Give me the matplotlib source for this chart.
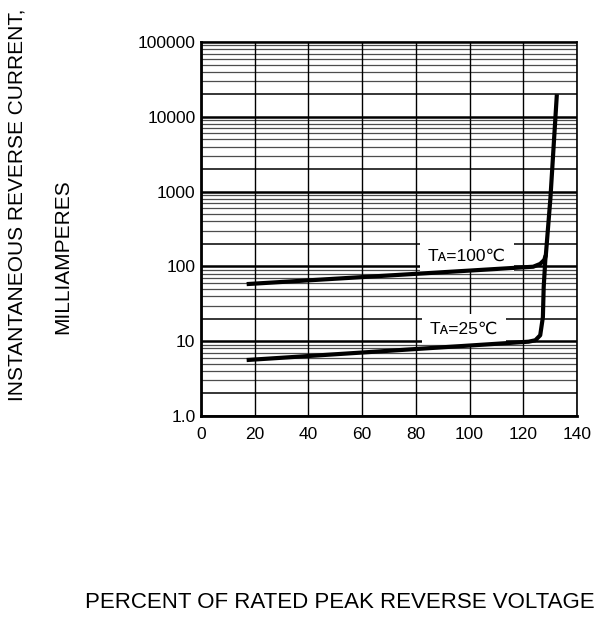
import numpy as np
import matplotlib
matplotlib.use("Agg")
import matplotlib.pyplot as plt

plt.rcParams['font.family'] = ['Liberation Sans', 'DejaVu Sans']

# T_A = 100 C curve (percent of rated voltage, mA)
x100 = [17, 123.7, 126.3, 127.8, 128.4, 130.1, 132.5]
y100 = [58, 99, 108, 122, 142, 815, 20000]
# T_A = 25 C curve
x25 = [17, 122, 124.5, 126.3, 127.3, 127.6, 128.2, 128.4]
y25 = [5.6, 9.85, 10.3, 12, 21, 53, 122, 142]

xticks = [0, 20, 40, 60, 80, 100, 120, 140]
yticks = [1, 10, 100, 1000, 10000, 100000]
ytick_labels = ['1.0', '10', '100', '1000', '10000', '100000']

fig = plt.figure(figsize=(6.01, 6.19), dpi=100)
ax = fig.add_axes([201/601, 1-416/619, 376/601, 374/619])

ax.set_yscale('log')
ax.set_xlim(0, 140)
ax.set_ylim(1, 100000)

# grid: minor log lines, thicker at 2x, thick decades
for d in yticks[:-1]:
    for k in range(2, 10):
        if k == 2:
            ax.axhline(d*k, color='black', lw=1.1, zorder=1)
        else:
            ax.axhline(d*k, color='0.3', lw=0.9, zorder=1)
for d in yticks:
    ax.axhline(d, color='black', lw=1.8, zorder=1)
for xv in xticks:
    ax.axvline(xv, color='black', lw=1.0, zorder=1)

ax.plot(x100, y100, color='black', lw=3, solid_capstyle='butt', zorder=3)
ax.plot(x25, y25, color='black', lw=3, solid_capstyle='butt', zorder=3)

ax.text(99, 137, 'T\u1d00=100\u2103', fontsize=12.5, ha='center', va='center', zorder=2,
        bbox=dict(boxstyle='square,pad=0.45', facecolor='white', edgecolor='none'))
ax.text(98, 14.5, 'T\u1d00=25\u2103', fontsize=12.5, ha='center', va='center', zorder=2,
        bbox=dict(boxstyle='square,pad=0.45', facecolor='white', edgecolor='none'))

ax.set_xticks(xticks)
ax.set_xticklabels([str(v) for v in xticks], fontsize=12.5)
ax.set_yticks(yticks)
ax.set_yticklabels(ytick_labels, fontsize=12.5)
ax.yaxis.set_minor_locator(matplotlib.ticker.NullLocator())
ax.tick_params(axis='both', length=0)
ax.tick_params(axis='x', pad=8)
ax.tick_params(axis='y', pad=4)

for s in ['left', 'bottom']:
    ax.spines[s].set_linewidth(2)
for s in ['top', 'right']:
    ax.spines[s].set_linewidth(1.2)

fig.text(17/601, 1-205/619, 'INSTANTANEOUS REVERSE CURRENT,', rotation=90,
         ha='center', va='center', fontsize=15)
fig.text(63/601, 1-257/619, 'MILLIAMPERES', rotation=90,
         ha='center', va='center', fontsize=15)
fig.text(85/601, 1-603/619, 'PERCENT OF RATED PEAK REVERSE VOLTAGE',
         ha='left', va='center', fontsize=16)

fig.savefig('out.png', dpi=100)
